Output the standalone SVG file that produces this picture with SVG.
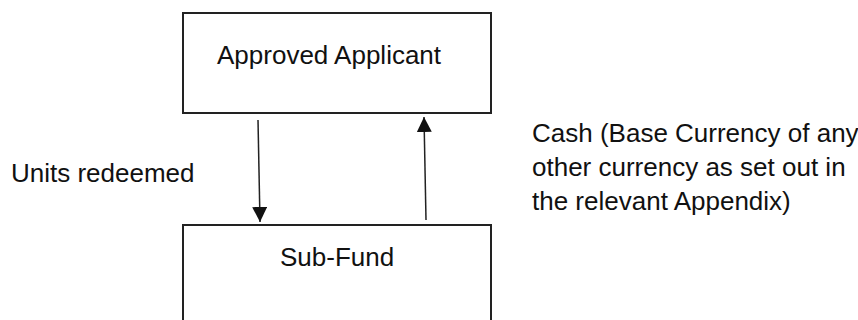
<svg xmlns="http://www.w3.org/2000/svg" width="858" height="320" viewBox="0 0 858 320">
<style>
.box{fill:#fff;stroke:#222;stroke-width:2}
.t{font-family:"Liberation Sans",Arial,sans-serif;font-size:26px;fill:#111}
.c{stroke:#222;stroke-width:1.5;fill:none}
</style>
<defs>
<marker id="ah" viewBox="0 0 10 10" refX="10" refY="5" markerWidth="15" markerHeight="15" markerUnits="userSpaceOnUse" orient="auto">
<path d="M0,0 L10,5 L0,10 Z" fill="#111"/>
</marker>
</defs>
<rect width="858" height="320" fill="#fff"/>
<g id="approved-applicant">
<rect class="box" x="183" y="13" width="308" height="100"/>
<text class="t" x="217" y="64">Approved Applicant</text>
</g>
<g id="sub-fund">
<rect class="box" x="183" y="225" width="308" height="110"/>
<text class="t" x="280" y="266">Sub-Fund</text>
</g>
<g id="connectors">
<line class="c" x1="258" y1="120" x2="260" y2="222" marker-end="url(#ah)"/>
<line class="c" x1="426" y1="220" x2="424" y2="117" marker-end="url(#ah)"/>
</g>
<g id="labels">
<text class="t" x="11" y="182">Units redeemed</text>
<text class="t" x="532" y="142">Cash (Base Currency of any</text>
<text class="t" x="532" y="176">other currency as set out in</text>
<text class="t" x="532" y="210">the relevant Appendix)</text>
</g>
</svg>
